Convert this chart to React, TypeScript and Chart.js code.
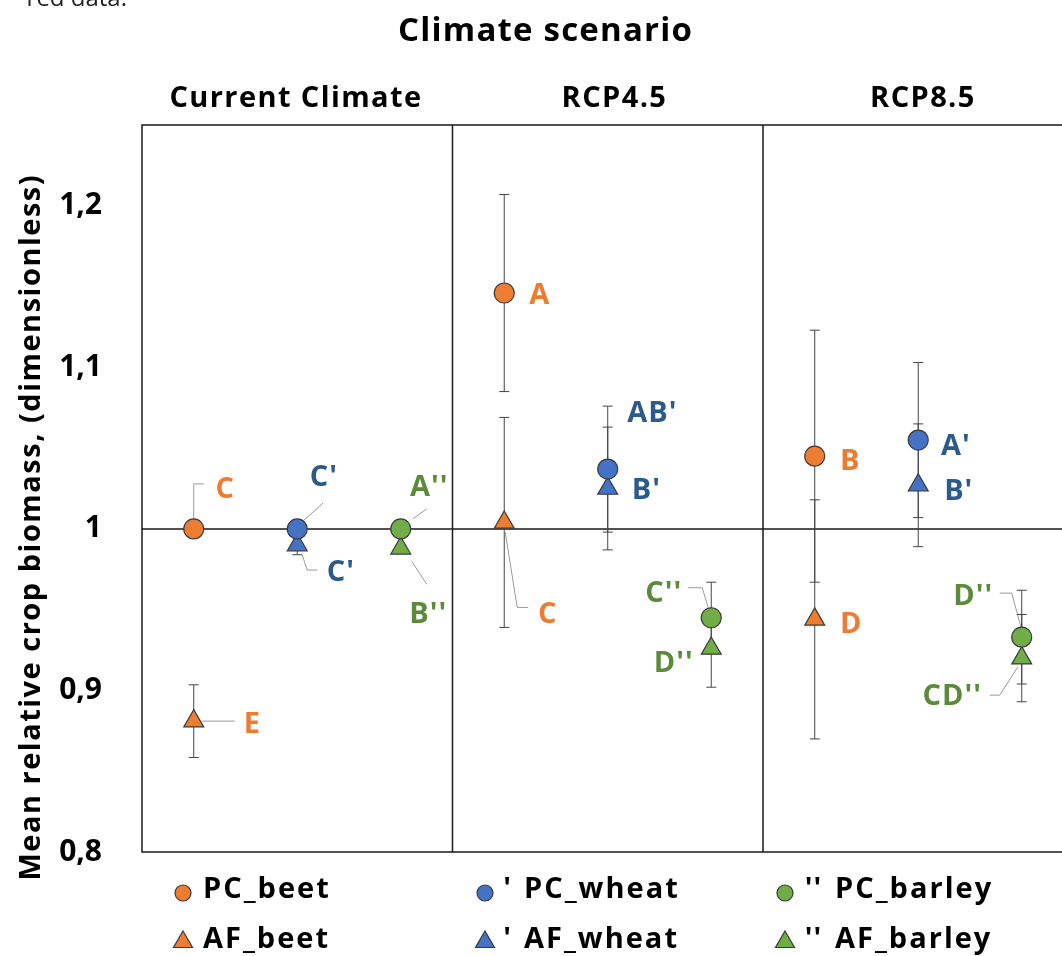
import React, { useEffect, useRef } from 'react';
import { Chart, registerables } from 'chart.js';

Chart.register(...registerables);

// ---------- data ----------
const scenarios = ['Current Climate', 'RCP4.5', 'RCP8.5'];
const crops = ['beet', 'wheat', 'barley'];
const yTickValues = [0.8, 0.9, 1.0, 1.1, 1.2];
const yTickLabels = ['0,8', '0,9', '1', '1,1', '1,2'];

// values per scenario: [Current Climate, RCP4.5, RCP8.5]
const pcBeet = [1.0, 1.146, 1.045];
const pcBeetErr = [0, 0.061, 0.078];
const afBeet = [0.881, 1.004, 0.944];
const afBeetErr = [0.0225, 0.065, 0.074];
const pcWheat = [1.0, 1.037, 1.055];
const pcWheatErr = [0, 0.039, 0.048];
const afWheat = [0.99, 1.025, 1.027];
const afWheatErr = [0.006, 0.038, 0.038];
const pcBarley = [1.0, 0.945, 0.933];
const pcBarleyErr = [0, 0.022, 0.029];
const afBarley = [0.988, 0.926, 0.92];
const afBarleyErr = [0, 0.024, 0.027];

const pcBeetLetters = ['C', 'A', 'B'];
const afBeetLetters = ['E', 'C', 'D'];
const pcWheatLetters = ["C'", "AB'", "A'"];
const afWheatLetters = ["C'", "B'", "B'"];
const pcBarleyLetters = ["A''", "C''", "D''"];
const afBarleyLetters = ["B''", "D''", "CD''"];

const seriesNames = ['PC_beet', 'AF_beet', 'PC_wheat', 'AF_wheat', 'PC_barley', 'AF_barley'];
const seriesPrefix = ['', '', "'", "'", "''", "''"];

// ---------- styles ----------
const FONT = '"Open Sans", sans-serif';
const ORANGE = '#ED7D31';
const BLUE = '#4472C4';
const GREEN = '#70AD47';
const LBL_ORANGE = '#EE7B30';
const LBL_BLUE = '#2D5A8C';
const LBL_GREEN = '#5B8A3A';
const EDGE = '#3a3a3a';

const seriesValues = [pcBeet, afBeet, pcWheat, afWheat, pcBarley, afBarley];
const seriesErrs = [pcBeetErr, afBeetErr, pcWheatErr, afWheatErr, pcBarleyErr, afBarleyErr];
const seriesLetters = [pcBeetLetters, afBeetLetters, pcWheatLetters, afWheatLetters, pcBarleyLetters, afBarleyLetters];
const seriesCrop = [0, 0, 1, 1, 2, 2];
const seriesFill = [ORANGE, ORANGE, BLUE, BLUE, GREEN, GREEN];
const seriesLabelColor = [LBL_ORANGE, LBL_ORANGE, LBL_BLUE, LBL_BLUE, LBL_GREEN, LBL_GREEN];
const seriesStyle = ['circle', 'triangle', 'circle', 'triangle', 'circle', 'triangle'];

// label placement (pixel offsets from the point) and leader lines
type Ann = { ds: number; i: number; dx: number; dy: number; path?: number[][] };
const annotations: Ann[] = [
  { ds: 0, i: 0, dx: 31, dy: -41, path: [[0, -10], [0, -45], [10, -45]] },
  { ds: 2, i: 0, dx: 26, dy: -53, path: [[6, -8], [26, -26]] },
  { ds: 3, i: 0, dx: 43, dy: 26, path: [[5, 10], [10, 25], [20, 25]] },
  { ds: 4, i: 0, dx: 28, dy: -43, path: [[12, -10], [26, -20]] },
  { ds: 5, i: 0, dx: 27, dy: 64, path: [[11, 13], [26, 36]] },
  { ds: 1, i: 0, dx: 58, dy: 2, path: [[8, 0], [41, 0]] },
  { ds: 0, i: 1, dx: 35, dy: 1 },
  { ds: 1, i: 1, dx: 43, dy: 90, path: [[1, 10], [13, 85], [24, 85]] },
  { ds: 2, i: 1, dx: 44, dy: -57 },
  { ds: 3, i: 1, dx: 38, dy: 0 },
  { ds: 4, i: 1, dx: -48, dy: -26, path: [[-23, -30], [-9, -30], [-3, -10]] },
  { ds: 5, i: 1, dx: -38, dy: 13 },
  { ds: 0, i: 2, dx: 35, dy: 3 },
  { ds: 1, i: 2, dx: 36, dy: 3 },
  { ds: 2, i: 2, dx: 37, dy: 5 },
  { ds: 3, i: 2, dx: 40, dy: 4 },
  { ds: 4, i: 2, dx: -49, dy: -42, path: [[-22, -44], [-10, -44], [0, -7]] },
  { ds: 5, i: 2, dx: -70, dy: 37, path: [[-32, 37], [-22, 37], [-4, 9]] },
];

const X_MAX = 8.889;
const HEADING_SHIFT = [-2, 6, 4];

function drawMarker(ctx: CanvasRenderingContext2D, style: string, x: number, y: number, r: number, fill: string) {
  ctx.save();
  ctx.beginPath();
  if (style === 'circle') {
    ctx.arc(x, y, r, 0, Math.PI * 2);
  } else {
    ctx.moveTo(x, y - r);
    ctx.lineTo(x + r * 0.866, y + r / 2);
    ctx.lineTo(x - r * 0.866, y + r / 2);
    ctx.closePath();
  }
  ctx.fillStyle = fill;
  ctx.fill();
  ctx.lineWidth = 1.2;
  ctx.strokeStyle = EDGE;
  ctx.stroke();
  ctx.restore();
}

function drawText(
  ctx: CanvasRenderingContext2D,
  text: string,
  x: number,
  cy: number,
  size: number,
  color: string,
  align: CanvasTextAlign = 'center',
  spacing = 0,
  weight = 'bold'
) {
  ctx.save();
  ctx.font = `${weight} ${size}px ${FONT}`;
  (ctx as any).letterSpacing = `${spacing}px`;
  ctx.fillStyle = color;
  ctx.textAlign = align;
  ctx.textBaseline = 'alphabetic';
  const dx = align === 'center' ? spacing / 2 : 0;
  ctx.fillText(text, x + dx, cy + size * 0.357);
  ctx.restore();
}

const framePlugin = {
  id: 'frame',
  beforeDatasetsDraw(chart: any) {
    const { ctx, chartArea: a, scales } = chart;
    const xs = scales.x;
    const ys = scales.y;
    ctx.save();
    ctx.strokeStyle = '#1a1a1a';
    ctx.lineWidth = 1.5;
    ctx.beginPath();
    ctx.moveTo(a.right, a.top);
    ctx.lineTo(a.left, a.top);
    ctx.lineTo(a.left, a.bottom);
    ctx.lineTo(a.right, a.bottom);
    for (let s = 1; s < scenarios.length; s++) {
      const px = xs.getPixelForValue(s * 3);
      ctx.moveTo(px, a.top);
      ctx.lineTo(px, a.bottom);
    }
    const y1 = ys.getPixelForValue(1);
    ctx.moveTo(a.left, y1);
    ctx.lineTo(a.right, y1);
    ctx.stroke();

    // leader lines
    ctx.strokeStyle = '#9a9a9a';
    ctx.lineWidth = 1;
    annotations.forEach((an) => {
      if (!an.path) return;
      const el = chart.getDatasetMeta(an.ds).data[an.i];
      ctx.beginPath();
      an.path.forEach((p, k) => {
        if (k === 0) ctx.moveTo(el.x + p[0], el.y + p[1]);
        else ctx.lineTo(el.x + p[0], el.y + p[1]);
      });
      ctx.stroke();
    });

    // error bars
    ctx.strokeStyle = '#444';
    ctx.lineWidth = 1;
    chart.data.datasets.forEach((ds: any, di: number) => {
      ds.data.forEach((pt: any, i: number) => {
        const err = seriesErrs[di][i];
        if (!err) return;
        const px = xs.getPixelForValue(pt.x);
        const yt = ys.getPixelForValue(pt.y + err);
        const yb = ys.getPixelForValue(pt.y - err);
        ctx.beginPath();
        ctx.moveTo(px, yt);
        ctx.lineTo(px, yb);
        ctx.moveTo(px - 5, yt);
        ctx.lineTo(px + 5, yt);
        ctx.moveTo(px - 5, yb);
        ctx.lineTo(px + 5, yb);
        ctx.stroke();
      });
    });
    ctx.restore();
  },
  afterDraw(chart: any) {
    const { ctx } = chart;
    // clipped fragment of a caption line above the figure
    ctx.save();
    ctx.font = `24px ${FONT}`;
    ctx.fillStyle = '#222';
    ctx.textAlign = 'right';
    ctx.fillText('red data.', 127, 6);
    ctx.restore();

    // titles
    drawText(ctx, 'Climate scenario', 545, 29, 33, '#000', 'center', 1.2);
    const xs = chart.scales.x;
    scenarios.forEach((s, k) => {
      drawText(ctx, s, xs.getPixelForValue(k * 3 + 1.5) + HEADING_SHIFT[k], 97, 29, '#000', 'center', 1.4);
    });

    // y title
    ctx.save();
    ctx.translate(30, 528);
    ctx.rotate(-Math.PI / 2);
    drawText(ctx, 'Mean relative crop biomass, (dimensionless)', 0, 0, 29, '#000', 'center', 1.5);
    ctx.restore();

    // point labels
    annotations.forEach((an) => {
      const el = chart.getDatasetMeta(an.ds).data[an.i];
      drawText(ctx, seriesLetters[an.ds][an.i], el.x + an.dx, el.y + an.dy, 29, seriesLabelColor[an.ds], 'center', 1);
    });

    // legend
    const colMarker = [183, 485, 785];
    const colPrefix = [0, 507, 813];
    const colText = [203, 524, 835];
    const rowY = [888, 938];
    seriesNames.forEach((name, di) => {
      const c = seriesCrop[di];
      const r = di % 2;
      if (r === 0) drawMarker(ctx, 'circle', colMarker[c], 893, 8, seriesFill[di]);
      else drawMarker(ctx, 'triangle', colMarker[c], 942, 11, seriesFill[di]);
      if (seriesPrefix[di]) drawText(ctx, seriesPrefix[di], colPrefix[c], rowY[r], 29, '#000', 'center', 1);
      drawText(ctx, name, colText[c], rowY[r], 29, '#000', 'left', 2);
    });
  },
};

export default function App() {
  const ref = useRef<HTMLCanvasElement | null>(null);
  useEffect(() => {
    if (!ref.current) return;
    const datasets = seriesNames.map((name, di) => ({
      label: name,
      data: seriesValues[di].map((v, i) => ({ x: i * 3 + seriesCrop[di] + 0.5, y: v })),
      pointStyle: seriesStyle[di],
      pointRadius: seriesStyle[di] === 'circle' ? 10 : 11.5,
      pointBackgroundColor: seriesFill[di],
      pointBorderColor: EDGE,
      pointBorderWidth: 1.2,
      showLine: false,
    }));
    const chart = new Chart(ref.current, {
      type: 'scatter',
      data: { datasets },
      options: {
        animation: false,
        responsive: false,
        maintainAspectRatio: false,
        layout: { autoPadding: false, padding: { top: 125, bottom: 104, left: 0, right: 0 } },
        plugins: { legend: { display: false }, tooltip: { enabled: false }, title: { display: false } },
        scales: {
          x: { type: 'linear', min: 0, max: X_MAX, display: false },
          y: {
            type: 'linear',
            min: 0.8,
            max: 1.25,
            afterBuildTicks: (scale: any) => {
              scale.ticks = yTickValues.map((v) => ({ value: v }));
            },
            afterFit: (scale: any) => {
              scale.width = 142;
            },
            ticks: {
              padding: 40,
              color: '#000',
              font: { family: FONT, size: 30, weight: 'bold' },
              callback: (v: any) => {
                const k = yTickValues.findIndex((t) => Math.abs(t - Number(v)) < 1e-6);
                return k >= 0 ? yTickLabels[k] : '';
              },
            },
            grid: { display: false, drawTicks: false },
            border: { display: false },
          },
        },
      },
      plugins: [framePlugin],
    } as any);
    return () => chart.destroy();
  }, []);
  return (
    <div style={{ position: 'absolute', left: 0, top: 0, width: 1062, height: 956, background: '#fff' }}>
      <canvas ref={ref} width={1062} height={956} style={{ display: 'block', width: 1062, height: 956 }} />
    </div>
  );
}
